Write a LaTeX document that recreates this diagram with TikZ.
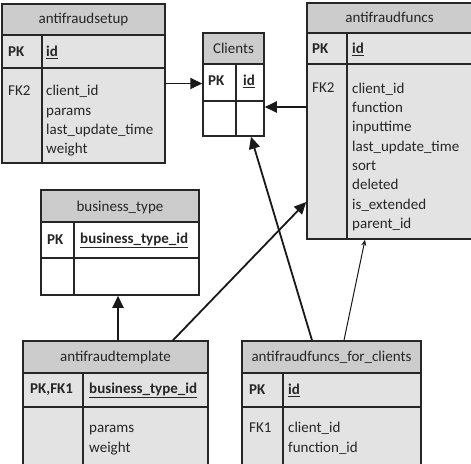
\documentclass[tikz,border=0pt]{standalone}
\usepackage{fontspec}
\setmainfont{Carlito}
\usetikzlibrary{arrows.meta}

\tikzset{
  tbox/.style={draw=black!85, line width=1.5pt, inner sep=0pt, rectangle},
  rowline/.style={draw=black!85, line width=1.5pt},
  hdrfill/.style={fill=black!20},
  bodyfill/.style={fill=black!11},
  ttl/.style={font=\fontsize{15}{19.3}\selectfont, text=black!85, inner sep=0pt},
  keylab/.style={font=\fontsize{15}{19.3}\selectfont\bfseries, text=black!85, anchor=west, inner sep=0pt},
  fklab/.style={font=\fontsize{15}{19.3}\selectfont, text=black!85, anchor=west, inner sep=0pt},
  fld/.style={font=\fontsize{15}{19.3}\selectfont, text=black!85, anchor=north west, align=left, inner sep=0pt},
  arr/.style={line width=1.8pt, black!90, -{Triangle[length=12pt,width=11pt]}},
  thinarr/.style={line width=1pt, black!90, -{Stealth[length=6pt,width=5pt]}},
}

\begin{document}
\begin{tikzpicture}[x=1pt, y=-1pt]
\clip (0,0) rectangle (471,463);
\fill[white] (0,0) rectangle (471,463);

% antifraudsetup
\fill[bodyfill] (2,4) rectangle (165,163);
\fill[hdrfill] (2,4) rectangle (165,35);
\draw[rowline] (2,35) -- (165,35) (2,68) -- (165,68) (42,35) -- (42,163);
\node[tbox, minimum width=163pt, minimum height=159pt] (setup) at (83.5,83.5) {};
\node[ttl] (setup-t) at (83.5,19.5) {antifraudsetup};
\node[keylab] (setup-pk) at (8,52) {PK};
\node[keylab] (setup-id) at (46,52) {\underline{id}};
\node[fklab] (setup-fk) at (8,90.5) {FK2};
\node[fld] (setup-f) at (46,82) {\strut client\_id\\params\\last\_update\_time\\weight};

% Clients
\fill[hdrfill] (203,33) rectangle (264,64);
\draw[rowline] (203,64) -- (264,64) (203,101) -- (264,101) (236,64) -- (236,136);
\node[tbox, minimum width=61pt, minimum height=103pt] (clients) at (233.5,84.5) {};
\node[ttl] (clients-t) at (233.5,48.5) {Clients};
\node[keylab] (clients-pk) at (208,81) {PK};
\node[keylab] (clients-id) at (243,81) {\underline{id}};

% antifraudfuncs
\fill[bodyfill] (307,3) rectangle (472,239);
\fill[hdrfill] (307,3) rectangle (472,33);
\draw[rowline] (307,33) -- (472,33) (307,64) -- (472,64) (347,33) -- (347,239);
\node[tbox, minimum width=165pt, minimum height=236pt] (funcs) at (389.5,121) {};
\node[ttl] (funcs-t) at (389.5,17.5) {antifraudfuncs};
\node[keylab] (funcs-pk) at (312,49) {PK};
\node[keylab] (funcs-id) at (352,49) {\underline{id}};
\node[fklab] (funcs-fk) at (312,88) {FK2};
\node[fld] (funcs-f) at (352,79.5) {\strut client\_id\\function\\inputtime\\last\_update\_time\\sort\\deleted\\is\_extended\\parent\_id};

% business_type
\fill[hdrfill] (41,190) rectangle (199,222);
\draw[rowline] (41,222) -- (199,222) (41,258) -- (199,258) (74,222) -- (74,295);
\node[tbox, minimum width=158pt, minimum height=105pt] (btype) at (120,242.5) {};
\node[ttl] (btype-t) at (120,207.5) {business\_type};
\node[keylab] (btype-pk) at (47,240) {PK};
\node[keylab] (btype-id) at (80,240) {\underline{business\_type\_id}};

% antifraudtemplate
\fill[bodyfill] (23,341) rectangle (208,470);
\fill[hdrfill] (23,341) rectangle (208,373);
\draw[rowline] (23,373) -- (208,373) (23,407) -- (208,407) (83,373) -- (83,470);
\node[tbox, minimum width=185pt, minimum height=129pt] (template) at (115.5,405.5) {};
\node[ttl] (template-t) at (115.5,357) {antifraudtemplate};
\node[keylab] (template-pk) at (30,390) {PK,FK1};
\node[keylab] (template-id) at (89,390) {\underline{business\_type\_id}};
\node[fld] (template-f) at (89,419) {\strut params\\weight};

% antifraudfuncs_for_clients
\fill[bodyfill] (242,341) rectangle (421,470);
\fill[hdrfill] (242,341) rectangle (421,373);
\draw[rowline] (242,373) -- (421,373) (242,407) -- (421,407) (283,373) -- (283,470);
\node[tbox, minimum width=179pt, minimum height=129pt] (forclients) at (331.5,405.5) {};
\node[ttl] (forclients-t) at (331.5,357) {antifraudfuncs\_for\_clients};
\node[keylab] (forclients-pk) at (249,390) {PK};
\node[keylab] (forclients-id) at (288,390) {\underline{id}};
\node[fklab] (forclients-fk) at (249,427.5) {FK1};
\node[fld] (forclients-f) at (288,419) {\strut client\_id\\function\_id};

% connectors
\draw[arr] (setup.east) -- (setup.east -| clients.west);
\draw[arr] (funcs.west |- 0,107) -- (clients.east |- 0,107);
\draw[arr] (template.north -| 118,0) -- (btype.south -| 118,0);
\draw[arr] (template.north -| 173,0) -- (funcs.west |- 0,202);
\draw[arr] (forclients.north -| 312,0) -- (clients.south -| 251,0);
\draw[thinarr] (forclients.north -| 344,0) -- (funcs.south -| 365,0);
\end{tikzpicture}
\end{document}
